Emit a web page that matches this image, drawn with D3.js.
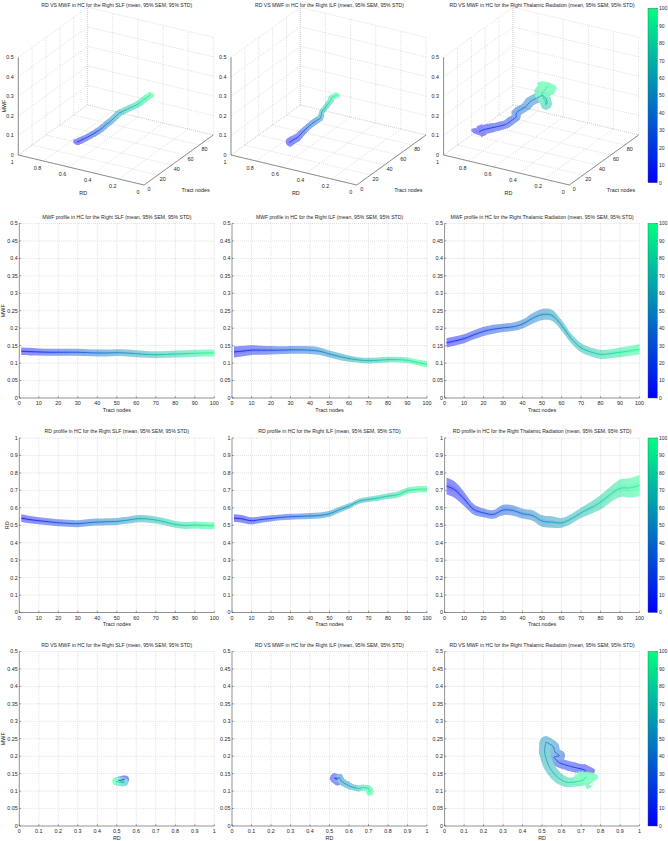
<!DOCTYPE html>
<meta charset="utf-8">
<script src="https://d3js.org/d3.v7.min.js"></script>
<style>
  body { margin: 0; background: #fff; }
  text { font-family: "Liberation Sans", Arial, sans-serif; fill: #262626; }
</style>
<svg id="fig" width="668" height="841"></svg>

<script>

// ---- data ----
var nodes = [1, 5, 10, 15, 20, 25, 30, 35, 40, 45, 50, 55, 60, 65, 70, 75, 80, 85, 90, 95, 100];
var tracts = ["SLF", "ILF", "Thalamic Radiation"];

var slfMWF   = [0.134,0.133,0.132,0.131,0.131,0.131,0.131,0.130,0.129,0.129,0.130,0.129,0.127,0.125,0.124,0.125,0.126,0.127,0.128,0.129,0.129];
var slfMWFsd = [0.011,0.011,0.010,0.010,0.010,0.010,0.010,0.010,0.010,0.010,0.010,0.010,0.010,0.010,0.010,0.010,0.010,0.010,0.010,0.010,0.010];
var ilfMWF   = [0.132,0.134,0.137,0.137,0.137,0.137,0.138,0.138,0.137,0.134,0.126,0.119,0.113,0.109,0.107,0.108,0.110,0.110,0.108,0.102,0.096];
var ilfMWFsd = [0.016,0.015,0.014,0.013,0.012,0.011,0.011,0.011,0.011,0.011,0.010,0.010,0.009,0.008,0.008,0.008,0.008,0.008,0.008,0.008,0.009];
var thalMWF  = [0.158,0.163,0.170,0.181,0.191,0.197,0.201,0.204,0.212,0.228,0.239,0.237,0.208,0.170,0.144,0.132,0.125,0.127,0.131,0.135,0.140];
var thalMWFsd= [0.013,0.013,0.013,0.013,0.013,0.013,0.012,0.012,0.013,0.015,0.016,0.016,0.015,0.014,0.013,0.013,0.013,0.013,0.014,0.014,0.015];

var slfRD    = [0.541,0.533,0.526,0.520,0.514,0.511,0.509,0.514,0.518,0.520,0.522,0.528,0.537,0.537,0.530,0.518,0.505,0.499,0.501,0.499,0.497];
var slfRDsd  = [0.022,0.021,0.020,0.020,0.020,0.020,0.020,0.020,0.020,0.020,0.020,0.020,0.021,0.021,0.020,0.020,0.020,0.020,0.020,0.020,0.020];
var ilfRD    = [0.541,0.537,0.526,0.533,0.539,0.545,0.549,0.551,0.553,0.556,0.566,0.589,0.610,0.637,0.648,0.656,0.667,0.675,0.698,0.706,0.707];
var ilfRDsd  = [0.022,0.022,0.020,0.018,0.018,0.017,0.017,0.017,0.017,0.017,0.017,0.017,0.016,0.015,0.015,0.016,0.017,0.018,0.018,0.018,0.018];
var thalRD   = [0.724,0.705,0.651,0.590,0.571,0.562,0.587,0.585,0.566,0.556,0.524,0.518,0.514,0.537,0.571,0.600,0.632,0.676,0.712,0.714,0.728];
var thalRDsd = [0.048,0.047,0.040,0.030,0.025,0.025,0.030,0.030,0.028,0.030,0.033,0.033,0.028,0.028,0.030,0.035,0.042,0.045,0.050,0.055,0.060];

var mwfTicks = [0, 0.05, 0.1, 0.15, 0.2, 0.25, 0.3, 0.35, 0.4, 0.45, 0.5];
var rdTicks  = [0, 0.1, 0.2, 0.3, 0.4, 0.5, 0.6, 0.7, 0.8, 0.9, 1];
var nodeTicks = [0, 10, 20, 30, 40, 50, 60, 70, 80, 90, 100];
var cbTicks  = [0, 10, 20, 30, 40, 50, 60, 70, 80, 90, 100];
var rd3Ticks = [0, 0.2, 0.4, 0.6, 0.8, 1];
var node3Ticks = [0, 20, 40, 60, 80, 100];
var node3Labels = [0, 20, 40, 60, 80];
var mwf3Ticks = [0, 0.1, 0.2, 0.3, 0.4, 0.5];

var mwfData = [[slfMWF, slfMWFsd], [ilfMWF, ilfMWFsd], [thalMWF, thalMWFsd]];
var rdData  = [[slfRD, slfRDsd], [ilfRD, ilfRDsd], [thalRD, thalRDsd]];

// ---- layout ----
var svg = d3.select("#fig");
var defs = svg.append("defs");
var colOff = [0, 212.7, 425.3];
var px0 = 19.3, plotW = 195, plotH = 174.5;
var fs = 5.4;
var gridColor = "#b4b4b4";
var axisColor = "#4a4a4a";

// winter colormap
var nodeColor = d3.scaleLinear().domain([0, 100]).range(["#0000ff", "#00ff80"]);
var fmt = function(d){ return String(+d.toFixed(2)); };

function title(cx, y, txt) {
  svg.append("text").attr("x", cx).attr("y", y).attr("text-anchor", "middle")
    .style("font-size", "5.1px").text(txt);
}

function dotted(g, x1, y1, x2, y2) {
  g.append("line").attr("x1", x1).attr("y1", y1).attr("x2", x2).attr("y2", y2)
    .attr("stroke", gridColor).attr("stroke-width", 0.5).attr("stroke-dasharray", "0.8,1.2");
}

function axes2D(g, x, y, xt, yt, xlab, ylab) {
  var x0 = x.range()[0], x1 = x.range()[1], yb = y.range()[0], yt0 = y.range()[1];
  xt.forEach(function(t){ if (x(t) > x0 + 0.5) dotted(g, x(t), yb, x(t), yt0); });
  yt.forEach(function(t){ if (y(t) < yb - 0.5) dotted(g, x0, y(t), x1, y(t)); });
  g.append("line").attr("x1", x0).attr("x2", x0).attr("y1", yb).attr("y2", yt0)
    .attr("stroke", axisColor).attr("stroke-width", 0.6);
  g.append("line").attr("x1", x0).attr("x2", x1).attr("y1", yb).attr("y2", yb)
    .attr("stroke", axisColor).attr("stroke-width", 0.6);
  xt.forEach(function(t){
    g.append("line").attr("x1", x(t)).attr("x2", x(t)).attr("y1", yb).attr("y2", yb - 1.8)
      .attr("stroke", axisColor).attr("stroke-width", 0.5);
    g.append("text").attr("x", x(t)).attr("y", yb + 7).attr("text-anchor", "middle")
      .style("font-size", fs + "px").text(fmt(t));
  });
  yt.forEach(function(t){
    g.append("line").attr("x1", x0).attr("x2", x0 + 1.8).attr("y1", y(t)).attr("y2", y(t))
      .attr("stroke", axisColor).attr("stroke-width", 0.5);
    g.append("text").attr("x", x0 - 1.6).attr("y", y(t) + 1.9).attr("text-anchor", "end")
      .style("font-size", fs + "px").text(fmt(t));
  });
  g.append("text").attr("x", (x0 + x1) / 2).attr("y", yb + 13.8).attr("text-anchor", "middle")
    .style("font-size", fs + "px").text(xlab);
  if (ylab) {
    var lx = ylab === "RD" ? 8.6 : 5.3;
    g.append("text").attr("transform", "translate(" + lx + "," + ((yb + yt0) / 2) + ") rotate(-90)")
      .attr("text-anchor", "middle").style("font-size", fs + "px").text(ylab);
  }
}

// coloured tube: ellipse at each node + thick smooth segments, flattened with group opacity
function tube(g, pts, op) {
  var band = g.append("g").attr("opacity", op);
  var n = pts.length;
  function half(d, nx, ny) {
    var a = d.u[0] * nx + d.u[1] * ny, b = d.v[0] * nx + d.v[1] * ny;
    return Math.sqrt(a * a + b * b);
  }
  pts.forEach(function(d, i){
    band.append("circle").attr("r", 1)
      .attr("transform", "matrix(" + [d.u[0], d.u[1], d.v[0], d.v[1], d.p[0], d.p[1]].join(",") + ")")
      .attr("fill", nodeColor(d.n));
    if (i < n - 1) {
      var e = pts[i + 1];
      var dx = e.p[0] - d.p[0], dy = e.p[1] - d.p[1], len = Math.hypot(dx, dy) || 1;
      var nx = -dy / len, ny = dx / len;
      var w = half(d, nx, ny) + half(e, nx, ny);
      band.append("path").attr("d", segPath(pts, i)).attr("fill", "none")
        .attr("stroke", nodeColor((d.n + e.n) / 2)).attr("stroke-width", w);
    }
  });
  pts.forEach(function(d, i){
    if (i < n - 1) {
      var e = pts[i + 1];
      g.append("path").attr("d", segPath(pts, i)).attr("fill", "none")
        .attr("stroke", nodeColor((d.n + e.n) / 2)).attr("stroke-width", 0.7);
    }
  });
}

// Catmull-Rom segment as a cubic bezier
function segPath(pts, i) {
  var n = pts.length;
  var p0 = pts[Math.max(i - 1, 0)].p, p1 = pts[i].p, p2 = pts[i + 1].p, p3 = pts[Math.min(i + 2, n - 1)].p;
  var p = d3.path();
  p.moveTo(p1[0], p1[1]);
  p.bezierCurveTo(p1[0] + (p2[0] - p0[0]) / 6, p1[1] + (p2[1] - p0[1]) / 6,
                  p2[0] - (p3[0] - p1[0]) / 6, p2[1] - (p3[1] - p1[1]) / 6,
                  p2[0], p2[1]);
  return p.toString();
}

function colorbar(top, bottom, id) {
  var cx = 648, cw = 9.3;
  var grad = defs.append("linearGradient").attr("id", id).attr("gradientUnits", "userSpaceOnUse")
    .attr("x1", 0).attr("x2", 0).attr("y1", bottom).attr("y2", top);
  grad.selectAll("stop").data([0, 100]).join("stop")
    .attr("offset", function(d){ return d / 100; }).attr("stop-color", nodeColor);
  var c = d3.scaleLinear().domain([0, 100]).range([bottom, top]);
  svg.append("rect").attr("x", cx).attr("y", top).attr("width", cw).attr("height", bottom - top)
    .attr("fill", "url(#" + id + ")").attr("stroke", axisColor).attr("stroke-width", 0.4);
  cbTicks.forEach(function(t){
    svg.append("line").attr("x1", cx + cw).attr("x2", cx + cw - 1.5).attr("y1", c(t)).attr("y2", c(t))
      .attr("stroke", axisColor).attr("stroke-width", 0.4);
    svg.append("text").attr("x", cx + cw + 1.6).attr("y", c(t) + 1.9)
      .style("font-size", "5px").text(t);
  });
}

// ---- row 1: 3-D plots ----
function panel3D(ci) {
  var B = [144 + colOff[ci], 185];
  var rdX = d3.scaleLinear().domain([0, 1]).range([0, -125.7]);
  var rdY = d3.scaleLinear().domain([0, 1]).range([0, -30]);
  var tX = d3.scaleLinear().domain([0, 100]).range([0, 69.3]);
  var tY = d3.scaleLinear().domain([0, 100]).range([0, -50]);
  var zY = d3.scaleLinear().domain([0, 0.5]).range([0, -97.7]);
  function P(rd, t, z) { return [B[0] + rdX(rd) + tX(t), B[1] + rdY(rd) + tY(t) + zY(z)]; }
  var g = svg.append("g");
  function dl(a, b) { dotted(g, a[0], a[1], b[0], b[1]); }
  function sl(a, b) {
    g.append("line").attr("x1", a[0]).attr("y1", a[1]).attr("x2", b[0]).attr("y2", b[1])
      .attr("stroke", axisColor).attr("stroke-width", 0.6);
  }
  rd3Ticks.forEach(function(r){ dl(P(r, 0, 0), P(r, 100, 0)); dl(P(r, 100, 0), P(r, 100, 0.5)); });
  node3Ticks.forEach(function(t){ dl(P(0, t, 0), P(1, t, 0)); dl(P(1, t, 0), P(1, t, 0.5)); });
  mwf3Ticks.forEach(function(z){ dl(P(1, 0, z), P(1, 100, z)); dl(P(0, 100, z), P(1, 100, z)); });
  sl(P(1, 0, 0), P(1, 0, 0.5));
  sl(P(1, 0, 0), P(0, 0, 0));
  sl(P(0, 0, 0), P(0, 100, 0));

  mwf3Ticks.forEach(function(z){
    var p = P(1, 0, z);
    g.append("text").attr("x", p[0] - 4.5).attr("y", p[1] + 1.9).attr("text-anchor", "end")
      .style("font-size", fs + "px").text(fmt(z));
  });
  rd3Ticks.forEach(function(r){
    var p = P(r, 0, 0);
    g.append("text").attr("x", p[0] - 6).attr("y", p[1] + 8.5).attr("text-anchor", "middle")
      .style("font-size", fs + "px").text(fmt(r));
  });
  node3Labels.forEach(function(t){
    var p = P(0, t, 0);
    g.append("text").attr("x", p[0] + 5).attr("y", p[1] + 6).attr("text-anchor", "middle")
      .style("font-size", fs + "px").text(t);
  });
  var mAB = P(0.5, 0, 0), mBC = P(0, 50, 0);
  g.append("text").attr("x", mAB[0] + 2).attr("y", mAB[1] + 25).attr("text-anchor", "middle")
    .style("font-size", fs + "px").text("RD");
  g.append("text").attr("x", mBC[0] + 17).attr("y", mBC[1] + 32).attr("text-anchor", "middle")
    .style("font-size", fs + "px").text("Tract nodes");
  if (ci === 0) {
    var pz = P(1, 0, 0.25);
    g.append("text").attr("transform", "translate(5.5," + pz[1] + ") rotate(-90)")
      .attr("text-anchor", "middle").style("font-size", fs + "px").text("MWF");
  }

  var rd = rdData[ci][0], rdS = rdData[ci][1], mw = mwfData[ci][0], mwS = mwfData[ci][1];
  var k = 1.3;
  var pts = nodes.map(function(nd, i){
    return {
      n: nd,
      p: P(rd[i], nd, mw[i]),
      u: [rdX(rdS[i]) * k, rdY(rdS[i]) * k],
      v: [0, zY(mwS[i]) * k]
    };
  });
  tube(g, pts, 0.45);
  title(px0 + colOff[ci] + plotW / 2, 6.6,
    "RD VS MWF in HC for the Right " + tracts[ci] + " (mean, 95% SEM, 95% STD)");
}

// ---- rows 2 and 3: profiles ----
function profile(ci, top, data, ticks, yMax, name, ylab) {
  var x0 = px0 + colOff[ci];
  var x = d3.scaleLinear().domain([0, 100]).range([x0, x0 + plotW]);
  var y = d3.scaleLinear().domain([0, yMax]).range([top + plotH, top]);
  var g = svg.append("g");
  axes2D(g, x, y, nodeTicks, ticks, "Tract nodes", ylab);
  var gid = "g" + name + ci;
  defs.append("linearGradient").attr("id", gid).attr("gradientUnits", "userSpaceOnUse")
    .attr("x1", x(0)).attr("x2", x(100)).attr("y1", 0).attr("y2", 0)
    .selectAll("stop").data([0, 100]).join("stop")
    .attr("offset", function(d){ return d / 100; }).attr("stop-color", nodeColor);
  var mean = data[0], sd = data[1];
  var pts = nodes.map(function(nd, i){ return { n: nd, m: mean[i], s: sd[i] }; });
  function area(f) {
    return d3.area().curve(d3.curveCatmullRom)
      .x(function(d){ return x(d.n); })
      .y0(function(d){ return y(d.m - f * d.s); })
      .y1(function(d){ return y(d.m + f * d.s); })(pts);
  }
  g.append("path").attr("d", area(1)).attr("fill", "url(#" + gid + ")").attr("opacity", 0.45);
  g.append("path").attr("d", area(0.35)).attr("fill", "url(#" + gid + ")").attr("opacity", 0.1);
  g.append("path")
    .attr("d", d3.line().curve(d3.curveCatmullRom)
      .x(function(d){ return x(d.n); }).y(function(d){ return y(d.m); })(pts))
    .attr("fill", "none").attr("stroke", "url(#" + gid + ")").attr("stroke-width", 0.7);
  title(x0 + plotW / 2, top - 4.6,
    name + " profile in HC for the Right " + tracts[ci] + " (mean, 95% SEM, 95% STD)");
}

// ---- row 4: RD vs MWF ----
function scatter(ci, top) {
  var x0 = px0 + colOff[ci];
  var x = d3.scaleLinear().domain([0, 1]).range([x0, x0 + plotW]);
  var y = d3.scaleLinear().domain([0, 0.5]).range([top + plotH, top]);
  var g = svg.append("g");
  axes2D(g, x, y, rdTicks, mwfTicks, "RD", ci === 0 ? "MWF" : null);
  var rd = rdData[ci][0], rdS = rdData[ci][1], mw = mwfData[ci][0], mwS = mwfData[ci][1];
  var pts = nodes.map(function(nd, i){
    return {
      n: nd,
      p: [x(rd[i]), y(mw[i])],
      u: [x(rd[i] + rdS[i]) - x(rd[i]), 0],
      v: [0, y(mw[i] + mwS[i]) - y(mw[i])]
    };
  });
  tube(g, pts, 0.45);
  title(x0 + plotW / 2, top - 4.6,
    "RD VS MWF in HC for the Right " + tracts[ci] + " (mean, 95% SEM, 95% STD)");
}

[0, 1, 2].forEach(function(ci){
  panel3D(ci);
  profile(ci, 223.5, mwfData[ci], mwfTicks, 0.5, "MWF", ci === 0 ? "MWF" : null);
  profile(ci, 438, rdData[ci], rdTicks, 1, "RD", ci === 0 ? "RD" : null);
  scatter(ci, 651.5);
});

colorbar(8.3, 182.7, "cb0");
colorbar(223.5, 398, "cb1");
colorbar(438, 612.5, "cb2");
colorbar(651.5, 826, "cb3");

</script>
